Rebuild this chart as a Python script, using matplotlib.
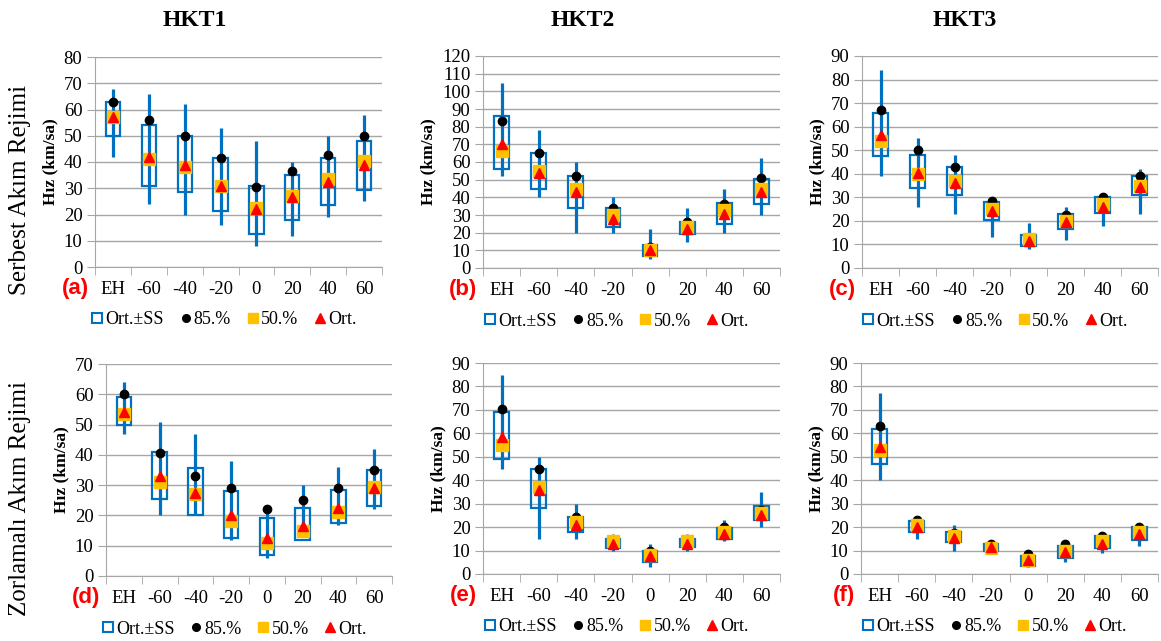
import matplotlib
matplotlib.use('Agg')
import matplotlib.pyplot as plt
from matplotlib.lines import Line2D
import numpy as np

categories = ['EH', '-60', '-40', '-20', '0', '20', '40', '60']

# panel (a) HKT1 serbest
a_wlo = [42, 24, 20, 16, 8, 12, 19, 25]
a_whi = [68, 66, 62, 53, 48, 40, 50, 58]
a_blo = [50, 31, 28.5, 21.5, 12.5, 18, 23.5, 29.5]
a_bhi = [63, 54, 50, 41.5, 31, 35, 41.5, 48]
a_p85 = [63, 56, 50, 41.5, 30.5, 36.5, 42.5, 50]
a_p50 = [57, 41, 38, 31, 22.5, 27, 33.5, 40.5]
a_ort = [57, 42, 39, 31, 22, 26.5, 32.5, 39]

# panel (b) HKT2 serbest
b_wlo = [52, 40, 20, 20, 5, 15, 20, 30]
b_whi = [105, 78, 60, 40, 22, 34, 45, 62]
b_blo = [56, 45, 34, 23, 7, 19, 25, 36]
b_bhi = [86, 65, 52, 34, 13, 26, 37, 50.5]
b_p85 = [83, 65, 52, 34, 12, 26, 36, 51]
b_p50 = [66, 55, 45, 30, 10, 23, 33, 45]
b_ort = [70, 54, 43, 28, 10, 22, 30.5, 43]

# panel (c) HKT3 serbest
c_wlo = [39, 26, 23, 13, 8, 12, 18, 23]
c_whi = [84, 55, 48, 29, 19, 26, 31, 42]
c_blo = [47.5, 34, 31, 20.5, 9.5, 16.5, 23.5, 31]
c_bhi = [66, 48, 43, 28, 14, 23, 30, 39]
c_p85 = [67, 50, 43, 28.5, 12.5, 22.5, 30, 39]
c_p50 = [54, 40, 37, 25, 12.5, 20, 27, 35]
c_ort = [56.5, 40.5, 36, 24, 11.5, 19.5, 26, 34.5]

# panel (d) HKT1 zorlamali
d_wlo = [47, 20, 20, 12, 6, 13, 17, 22]
d_whi = [64, 51, 47, 38, 22, 30, 36, 42]
d_blo = [50, 25.5, 20, 12.5, 7, 12, 17.5, 23]
d_bhi = [59, 41, 35.5, 28, 19, 22.5, 28.5, 35]
d_p85 = [60, 40.5, 33, 29, 22, 25, 29, 35]
d_p50 = [53.5, 31, 27, 18, 11, 15, 21, 29.5]
d_ort = [54, 33, 27.5, 20, 12.5, 16.5, 22.5, 29]

# panel (e) HKT2 zorlamali
e_wlo = [45, 15, 15, 10, 3, 10, 14, 20]
e_whi = [85, 50, 30, 16, 13, 16, 23, 35]
e_blo = [49, 28, 18, 11, 5, 11.5, 15, 23]
e_bhi = [69, 45, 24.5, 15, 10, 15, 19.5, 29]
e_p85 = [70.5, 45, 24.5, 15, 10, 15, 20, 27.5]
e_p50 = [55, 37, 22, 14, 8, 14, 18, 26]
e_ort = [58.5, 36, 21, 13, 7.5, 13, 17, 25]

# panel (f) HKT3 zorlamali
f_wlo = [40, 15, 10, 10, 3, 5, 9, 12]
f_whi = [77, 24, 21, 14, 9, 13, 17, 21]
f_blo = [47, 18, 13.5, 10, 3.5, 7, 11, 14.5]
f_bhi = [62, 22.5, 18, 13, 7.5, 12, 16, 20]
f_p85 = [63, 23, 17.5, 13, 8.5, 13, 16, 20]
f_p50 = [53, 21, 16, 11, 6, 10, 14, 18]
f_ort = [54, 20, 15.5, 11.5, 6, 9.5, 13, 17]

W, H = 1161, 641
BLUE = '#0070C0'
plt.rcParams['font.family'] = ['Liberation Serif', 'DejaVu Serif']

fig = plt.figure(figsize=(W / 100, H / 100), dpi=100)


def px_axes(l, t, r, b):
    return fig.add_axes([l / W, 1 - b / H, (r - l) / W, (b - t) / H])


def panel(rect, wlo, whi, blo, bhi, p85, p50, ort, ymax, letter):
    ax = px_axes(*rect)
    x = np.arange(len(categories))
    ax.vlines(x, wlo, whi, color=BLUE, lw=2.3, zorder=3)
    for xi, lo, hi in zip(x, blo, bhi):
        ax.add_patch(plt.Rectangle((xi - 0.2, lo), 0.4, hi - lo, fill=False,
                                   ec=BLUE, lw=1.6, zorder=3))
    ax.plot(x, p85, 'o', color='black', ms=6, zorder=4)
    ax.plot(x, p50, 's', color='#FFC000', ms=8, zorder=5)
    ax.plot(x, ort, '^', color='#FF0000', ms=7.5, zorder=6)
    ax.set_xlim(-0.5, 7.5)
    ax.set_ylim(0, ymax)
    ax.set_yticks(np.arange(0, ymax + 1, 10))
    ax.set_xticks(x)
    ax.set_xticklabels(categories)
    ax.set_xticks(np.arange(-0.5, 8, 1), minor=True)
    ax.tick_params(axis='x', which='major', length=0, pad=10, labelsize=13.5)
    ax.tick_params(axis='x', which='minor', length=6, color='#A6A6A6')
    ax.tick_params(axis='y', length=6, color='#A6A6A6', pad=3, labelsize=13.5)
    ax.grid(axis='y', color='#A6A6A6', lw=1)
    ax.set_axisbelow(True)
    for s in ['top', 'right']:
        ax.spines[s].set_visible(False)
    for s in ['left', 'bottom']:
        ax.spines[s].set_color('#A6A6A6')
    ax.set_ylabel('Hız (km/sa)', fontweight='bold', fontsize=12.5, labelpad=4)
    ax.text(-0.02, -0.1, '(' + letter + ')', transform=ax.transAxes, color='#FF0000',
            fontsize=16, fontweight='bold', family='Liberation Sans', ha='right', va='center')
    handles = [
        Line2D([], [], ls='none', marker='s', mfc='white', mec=BLUE, mew=1.5, ms=6.5),
        Line2D([], [], ls='none', marker='o', color='black', ms=5.5),
        Line2D([], [], ls='none', marker='s', color='#FFC000', ms=7),
        Line2D([], [], ls='none', marker='^', color='#FF0000', ms=7.5),
    ]
    ax.legend(handles, ['Ort.±SS', '85.%', '50.%', 'Ort.'], loc='center',
              bbox_to_anchor=(0.45, -0.25), ncol=4, frameon=False,
              handletextpad=0.15, columnspacing=0.9, handlelength=0.6,
              prop={'size': 13})
    return ax


panel((95, 57, 382, 267), a_wlo, a_whi, a_blo, a_bhi, a_p85, a_p50, a_ort, 80, 'a')
panel((483, 56, 780, 268), b_wlo, b_whi, b_blo, b_bhi, b_p85, b_p50, b_ort, 120, 'b')
panel((862, 56, 1158, 268), c_wlo, c_whi, c_blo, c_bhi, c_p85, c_p50, c_ort, 90, 'c')
panel((106, 364, 392, 576), d_wlo, d_whi, d_blo, d_bhi, d_p85, d_p50, d_ort, 70, 'd')
panel((483, 363, 780, 574), e_wlo, e_whi, e_blo, e_bhi, e_p85, e_p50, e_ort, 90, 'e')
panel((861, 363, 1158, 574), f_wlo, f_whi, f_blo, f_bhi, f_p85, f_p50, f_ort, 90, 'f')

for xp, title in [(195, 'HKT1'), (583, 'HKT2'), (965, 'HKT3')]:
    fig.text(xp / W, 1 - 20 / H, title, fontweight='bold',
             fontsize=17, ha='center', va='center')

fig.text(20 / W, 1 - 190 / H, 'Serbest Akım Rejimi', fontsize=18,
         rotation=90, ha='center', va='center')
fig.text(20 / W, 1 - 499 / H, 'Zorlamalı Akım Rejimi', fontsize=18,
         rotation=90, ha='center', va='center')

fig.savefig('out.png', dpi=100)
